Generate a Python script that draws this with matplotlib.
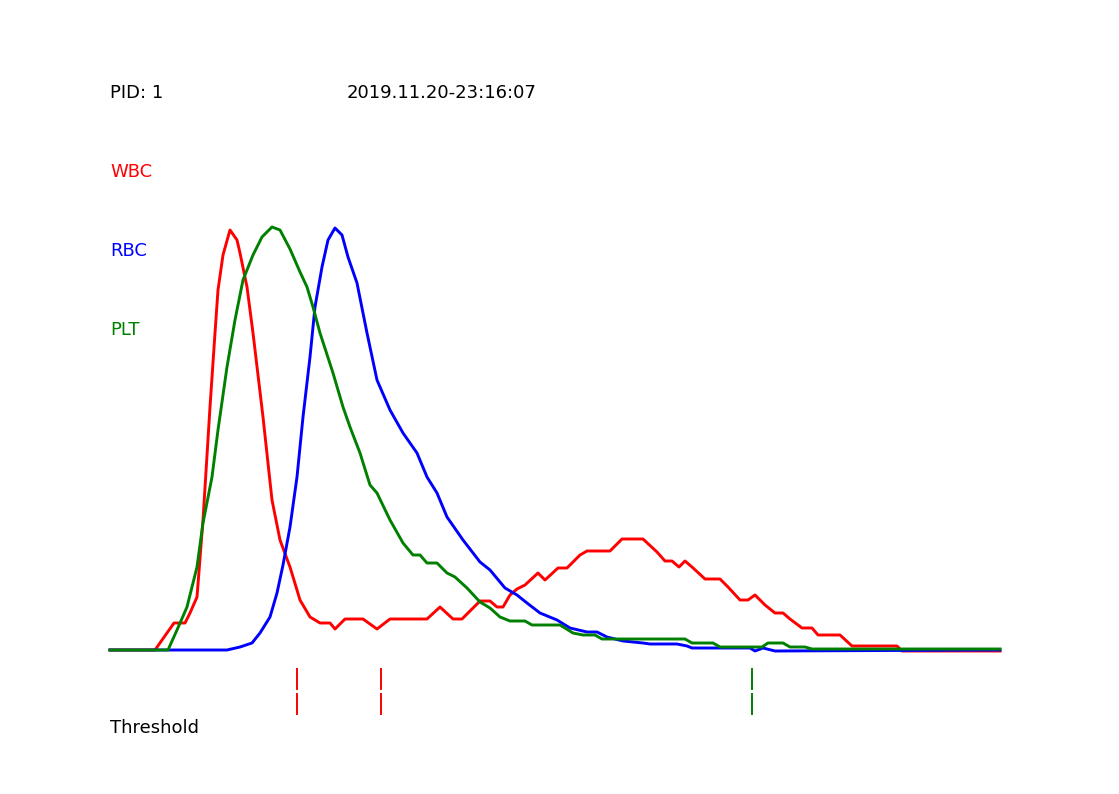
import matplotlib
matplotlib.use("Agg")
from matplotlib import pyplot as plt

# histogram curves (x = channel, y = count)
wbc_x = [0, 45, 64, 75, 80, 87, 93, 100, 105, 108, 113, 120, 127, 130, 137, 143, 153, 162, 170, 180,
         190, 200, 210, 220, 225, 235, 253, 267, 280, 317, 330, 343, 352, 370, 380, 387, 393, 400, 407, 415,
         428, 435, 448, 457, 470, 477, 500, 512, 533, 547, 555, 562, 569, 575, 582, 595, 610, 618, 630, 638,
         645, 655, 665, 673, 680, 692, 702, 708, 730, 742, 787, 792, 890]
wbc_y = [0, 0, 27, 27, 37, 53, 130, 243, 317, 360, 395, 420, 410, 397, 363, 317, 233, 150, 110, 83,
         50, 33, 27, 27, 21, 31, 31, 21, 31, 31, 43, 31, 31, 49, 49, 43, 43, 55, 61, 65,
         77, 70, 82, 82, 95, 99, 99, 111, 111, 98, 89, 89, 83, 89, 83, 71, 71, 63, 50, 50,
         55, 45, 37, 37, 31, 22, 22, 15, 15, 4, 4, -1, -1]

rbc_x = [0, 117, 130, 142, 150, 160, 167, 173, 180, 187, 193, 200, 205, 212, 218, 225, 232, 238, 247, 257,
         267, 280, 293, 307, 317, 327, 337, 353, 370, 380, 395, 407, 417, 430, 447, 460, 477, 487, 497, 513,
         533, 540, 567, 577, 582, 640, 645, 653, 665, 890]
rbc_y = [0, 0, 3, 7, 17, 33, 57, 85, 123, 173, 233, 293, 343, 383, 410, 422, 415, 393, 367, 317,
         270, 240, 217, 197, 173, 157, 133, 110, 88, 80, 62, 55, 47, 37, 30, 22, 18, 18, 13, 9,
         7, 6, 6, 4, 2, 2, -1, 2, -1, 0]

plt_x = [0, 58, 67, 77, 87, 93, 102, 108, 117, 125, 133, 143, 152, 162, 170, 180, 190, 197, 203,
         210, 223, 233, 240, 250, 260, 267, 280, 293, 303, 310, 317, 327, 337, 345, 357, 370, 380, 390, 400,
         415, 422, 450, 463, 473, 485, 492, 575, 582, 603, 610, 652, 658, 673, 680, 695, 702, 890]
plt_y = [0, 0, 20, 43, 83, 127, 173, 220, 283, 330, 370, 395, 413, 423, 420, 401, 378, 363, 343,
         317, 277, 243, 223, 197, 165, 157, 130, 107, 95, 95, 87, 87, 77, 73, 62, 48, 42, 33, 29,
         29, 25, 25, 17, 15, 15, 11, 11, 7, 7, 3, 3, 7, 7, 3, 3, 1, 1]

wbc_thresholds = [187, 271]
plt_thresholds = [642]

pid = "PID: 1"
timestamp = "2019.11.20-23:16:07"

RED = "#ff0000"
BLUE = "#0000ff"
GREEN = "#008000"

W, H = 1119, 794
fig = plt.figure(figsize=(W / 100, H / 100), dpi=100)
ax = fig.add_axes([110 / W, (H - 650) / H, 890 / W, 422 / H])
ax.set_xlim(0, 890)
ax.set_ylim(0, 422)
ax.axis("off")

ax.plot(plt_x, plt_y, color=GREEN, lw=2.1, clip_on=False, zorder=3)
ax.plot(rbc_x, rbc_y, color=BLUE, lw=2.1, clip_on=False, zorder=2)
ax.plot(wbc_x, wbc_y, color=RED, lw=2.1, clip_on=False, zorder=1)

# threshold markers below the baseline, drawn as two short dashes
for thr_list, col in [(wbc_thresholds, RED), (plt_thresholds, GREEN)]:
    for t in thr_list:
        ax.plot([t, t], [-19, -39], color=col, lw=1.4, clip_on=False)
        ax.plot([t, t], [-44, -64], color=col, lw=1.4, clip_on=False)

fs = 13
fig.text(110 / W, 1 - 93 / H, pid, fontsize=fs, va="center", ha="left", color="black")
fig.text(347 / W, 1 - 93 / H, timestamp, fontsize=fs, va="center", ha="left", color="black")
fig.text(110 / W, 1 - 172 / H, "WBC", fontsize=fs, va="center", ha="left", color=RED)
fig.text(110 / W, 1 - 251 / H, "RBC", fontsize=fs, va="center", ha="left", color=BLUE)
fig.text(110 / W, 1 - 330 / H, "PLT", fontsize=fs, va="center", ha="left", color=GREEN)
fig.text(110 / W, 1 - 728 / H, "Threshold", fontsize=fs, va="center", ha="left", color="black")

fig.savefig("out.png", dpi=100)
